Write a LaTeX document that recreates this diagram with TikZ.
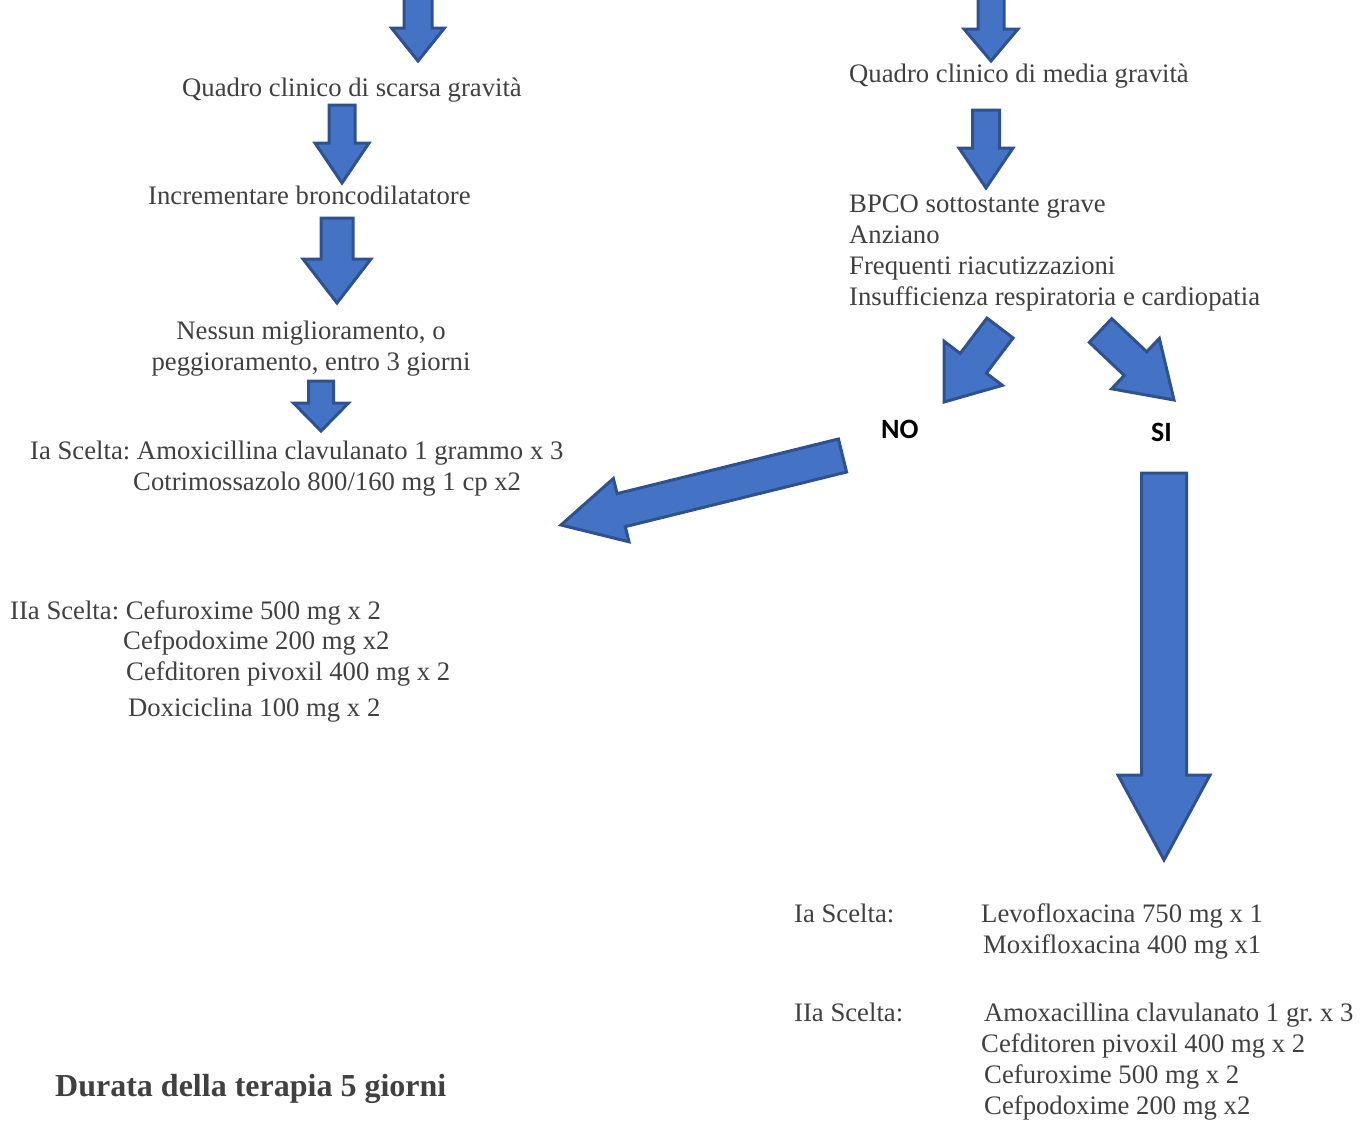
\documentclass[tikz,border=0pt]{standalone}
\usepackage{fontspec}
\setmainfont{Liberation Serif}
\newfontfamily\calibri{Carlito}
\usetikzlibrary{calc}
\frenchspacing

\definecolor{arrowfill}{HTML}{4472C4}
\definecolor{arrowline}{HTML}{2F528F}
\definecolor{txtgray}{HTML}{404040}

\tikzset{
  blockarrow/.style={fill=arrowfill, draw=arrowline, line width=3pt},
  txt/.style={inner sep=0pt, text=txtgray, font=\fontsize{26.7}{31}\selectfont, anchor=base west},
  txtc/.style={txt, anchor=base, align=center},
  txtl/.style={txt, align=left},
  answer/.style={inner sep=0pt, font=\calibri\bfseries\fontsize{28}{32}\selectfont, anchor=base west},
}

% tail, tip, half shaft, half head, head length
\newcommand{\bigarrow}[5]{%
  \coordinate (ba-neck) at ($(#2)!#5!(#1)$);
  \filldraw[blockarrow] ($(#1)!#3!90:(#2)$) -- ($(ba-neck)!#3!90:(#2)$)
    -- ($(ba-neck)!#4!90:(#2)$) -- (#2) -- ($(ba-neck)!#4!-90:(#2)$)
    -- ($(ba-neck)!#3!-90:(#2)$) -- ($(#1)!#3!-90:(#2)$) -- cycle;
}

\begin{document}
\begin{tikzpicture}[x=1pt, y=-1pt]
  \useasboundingbox (0,0) rectangle (1362,1120);

  %% left branch (multi-line nodes sit on their last baseline)
  \node[txt] (scarsa) at (182,96) {Quadro clinico di scarsa gravità};
  \node[txt] (incr) at (148,204) {Incrementare broncodilatatore};
  \node[txtc] (nessun) at (311,370) {Nessun miglioramento, o\\peggioramento, entro 3 giorni};
  \node[txt] (ia1) at (30,459) {Ia Scelta: Amoxicillina clavulanato 1 grammo x 3};
  \node[txt] (cotrim) at (133,490) {Cotrimossazolo 800/160 mg 1 cp x2};
  \node[txt] (iia1) at (10,619) {IIa Scelta: Cefuroxime 500 mg x 2};
  \node[txtl] (cefpod) at (123,716) {Cefpodoxime 200 mg x2\\
    \hspace*{3pt}Cefditoren pivoxil 400 mg x 2\\[5pt]
    \hspace*{5pt}Doxiciclina 100 mg x 2};
  \node[txt, font=\bfseries\fontsize{32}{36}\selectfont] (durata) at (55,1096) {Durata della terapia 5 giorni};

  %% right branch
  \node[txt] (media) at (849,82) {Quadro clinico di media gravità};
  \node[txtl] (bpco) at (849,305) {BPCO sottostante grave\\Anziano\\Frequenti riacutizzazioni\\
    Insufficienza respiratoria e cardiopatia};
  \node[answer] (no) at (881,438) {NO};
  \node[answer] (si) at (1151,441) {SI};
  \node[txt] (ia2) at (794,922) {Ia Scelta:};
  \node[txtl] (levo) at (981,953) {Levofloxacina 750 mg x 1\\\hspace*{2pt}Moxifloxacina 400 mg x1};
  \node[txt] (iia2) at (794,1021) {IIa Scelta:};
  \node[txtl] (amox) at (981,1114) {\hspace*{3pt}Amoxacillina clavulanato 1 gr. x 3\\
    Cefditoren pivoxil 400 mg x 2\\
    \hspace*{3pt}Cefuroxime 500 mg x 2\\
    \hspace*{3pt}Cefpodoxime 200 mg x2};

  %% arrows
  \coordinate (a1s) at (418,-5);    \coordinate (a1e) at (418,61);
  \coordinate (a2s) at (342,105);   \coordinate (a2e) at (342,183);
  \coordinate (a3s) at (337,218);   \coordinate (a3e) at (337,303);
  \coordinate (a4s) at (321,381);   \coordinate (a4e) at (321,431);
  \coordinate (b1s) at (991,-5);    \coordinate (b1e) at (991,61);
  \coordinate (b2s) at (986,110);   \coordinate (b2e) at (986,188);
  \coordinate (nos) at (1000,328);  \coordinate (noe) at (944,402);
  \coordinate (sis) at (1100.5,330.5); \coordinate (sie) at (1174,400);
  \coordinate (nolong) at (842.5,455.5); \coordinate (noend) at (561,525);
  \coordinate (silong) at (1164,473); \coordinate (siend) at (1164,860);

  \bigarrow{a1s}{a1e}{14pt}{26.5pt}{33pt}
  \bigarrow{a2s}{a2e}{13pt}{27pt}{40pt}
  \bigarrow{a3s}{a3e}{16pt}{34pt}{44pt}
  \bigarrow{a4s}{a4e}{12.5pt}{27.5pt}{28pt}
  \bigarrow{b1s}{b1e}{13pt}{27pt}{32pt}
  \bigarrow{b2s}{b2e}{13.5pt}{27pt}{40pt}
  \bigarrow{nos}{noe}{16.4pt}{36.5pt}{48.5pt}
  \bigarrow{sis}{sie}{16.3pt}{34.7pt}{53pt}
  \bigarrow{nolong}{noend}{17pt}{32.6pt}{62pt}
  \bigarrow{silong}{siend}{22.5pt}{46pt}{85pt}

\end{tikzpicture}
\end{document}
